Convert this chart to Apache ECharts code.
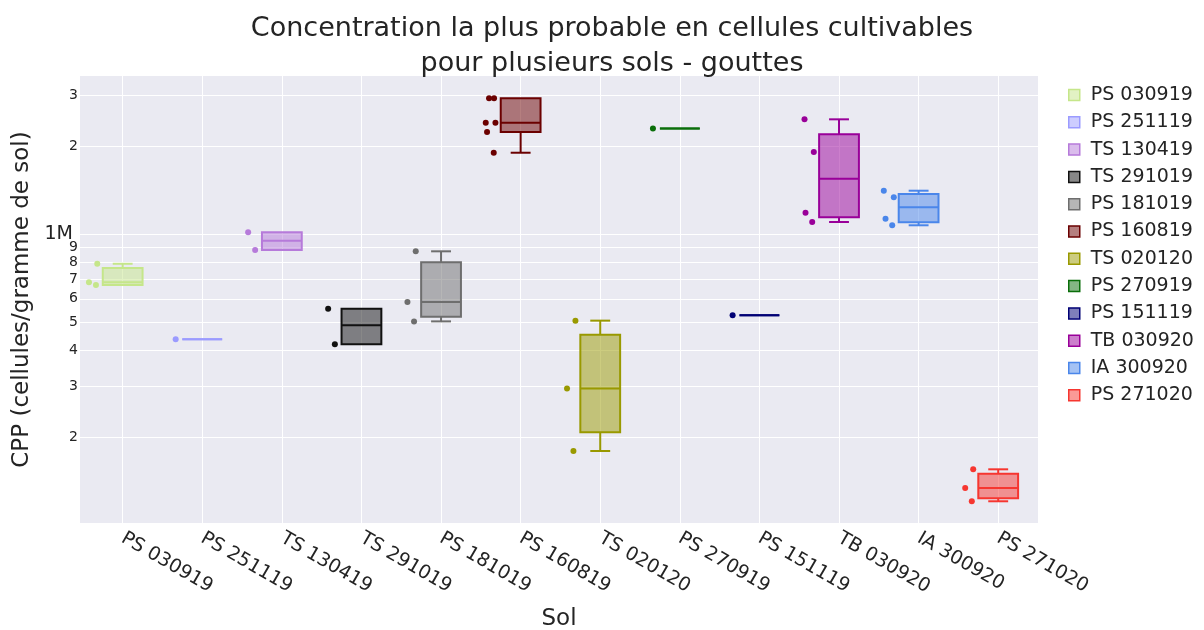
<!DOCTYPE html>
<html>
<head>
<meta charset="utf-8">
<title>CPP - gouttes</title>
<script src="https://cdn.jsdelivr.net/npm/echarts@6/dist/echarts.min.js"></script>
<style>
  html, body { margin: 0; padding: 0; background: #fff; }
  #chart { width: 1204px; height: 630px; }
</style>
</head>
<body>
<div id="chart"></div>
<script>
// categories (one trace per sol)
var sols = ['PS 030919', 'PS 251119', 'TS 130419', 'TS 291019', 'PS 181019', 'PS 160819',
            'TS 020120', 'PS 270919', 'PS 151119', 'TB 030920', 'IA 300920', 'PS 271020'];

// box statistics (cellules / g de sol)
var boxMin    = [670e3, 436e3,  883e3, 419e3, 502e3, 1.907e6, 180e3,   2.312e6, 527e3, 1.102e6, 1.074e6, 120.9e3];
var boxQ1     = [670e3, 436e3,  883e3, 419e3, 521e3, 2.246e6, 208.7e3, 2.312e6, 527e3, 1.144e6, 1.099e6, 123.8e3];
var boxMedian = [684e3, 436e3,  950e3, 487e3, 585e3, 2.418e6, 295e3,   2.312e6, 527e3, 1.553e6, 1.238e6, 134.3e3];
var boxQ3     = [766e3, 436e3, 1016e3, 555e3, 801e3, 2.934e6, 452e3,   2.312e6, 527e3, 2.207e6, 1.375e6, 150.4e3];
var boxMax    = [792e3, 436e3, 1016e3, 555e3, 874e3, 2.934e6, 505e3,   2.312e6, 527e3, 2.484e6, 1.412e6, 155.7e3];

// individual measurements
var points = [
  [684e3, 670e3, 792e3],
  [436e3],
  [1016e3, 883e3],
  [555e3, 419e3],
  [874e3, 585e3, 502e3],
  [2.934e6, 2.934e6, 2.418e6, 2.418e6, 2.246e6, 1.907e6],
  [505e3, 295e3, 180e3],
  [2.312e6],
  [527e3],
  [2.484e6, 1.918e6, 1.186e6, 1.102e6],
  [1.412e6, 1.340e6, 1.131e6, 1.074e6],
  [155.7e3, 134.3e3, 120.9e3]
];

// y tick labels
var yTicks = [2e5, 3e5, 4e5, 5e5, 6e5, 7e5, 8e5, 9e5, 1e6, 2e6, 3e6];

// layout / style only
var jitterPx = [
  [-33.7, -26.7, -25.4], [-26.6], [-33.7, -26.7], [-33.3, -26.6], [-25.3, -33.6, -27],
  [-31.6, -26.6, -34.9, -25.2, -33.6, -26.9], [-24.8, -33.2, -26.8], [-26.9], [-26.8],
  [-34.5, -25.2, -33.5, -26.8], [-34.8, -24.8, -33.1, -26.4], [-25, -33, -26.4]
];
var colors = ['#c5e68a', '#9b9bff', '#b67ada', '#111111', '#6e6e6e', '#6b0000',
              '#999900', '#0a6e0a', '#000075', '#990099', '#4a86ea', '#f63630'];
var font = 'DejaVu Sans, Verdana, sans-serif';
var txt = '#242424';

function alpha(hex, a) {
  var n = parseInt(hex.slice(1), 16);
  return 'rgba(' + (n >> 16 & 255) + ',' + (n >> 8 & 255) + ',' + (n & 255) + ',' + a + ')';
}

function boxRenderer(color) {
  return function (params, api) {
    var x = api.value(0);
    var lo = api.coord([x, api.value(1)]);
    var q1 = api.coord([x, api.value(2)]);
    var md = api.coord([x, api.value(3)]);
    var q3 = api.coord([x, api.value(4)]);
    var hi = api.coord([x, api.value(5)]);
    var xl = api.coord([x - 0.25, api.value(3)])[0];
    var xr = api.coord([x + 0.25, api.value(3)])[0];
    var cl = api.coord([x - 0.125, api.value(3)])[0];
    var cr = api.coord([x + 0.125, api.value(3)])[0];
    var ls = { stroke: color, lineWidth: 2, fill: null };
    var kids = [
      { type: 'rect', shape: { x: xl, y: q3[1], width: xr - xl, height: q1[1] - q3[1] },
        style: { fill: alpha(color, 0.5), stroke: color, lineWidth: 2 } },
      { type: 'line', shape: { x1: xl, y1: md[1], x2: xr, y2: md[1] }, style: ls }
    ];
    if (lo[1] - q1[1] > 0.5) {
      kids.push({ type: 'line', shape: { x1: md[0], y1: q1[1], x2: md[0], y2: lo[1] }, style: ls });
      kids.push({ type: 'line', shape: { x1: cl, y1: lo[1], x2: cr, y2: lo[1] }, style: ls });
    }
    if (q3[1] - hi[1] > 0.5) {
      kids.push({ type: 'line', shape: { x1: md[0], y1: q3[1], x2: md[0], y2: hi[1] }, style: ls });
      kids.push({ type: 'line', shape: { x1: cl, y1: hi[1], x2: cr, y2: hi[1] }, style: ls });
    }
    return { type: 'group', children: kids };
  };
}

var series = [];
sols.forEach(function (name, i) {
  series.push({
    name: name,
    type: 'custom',
    renderItem: boxRenderer(colors[i]),
    itemStyle: { color: colors[i] },
    encode: { x: 0, y: [1, 2, 3, 4, 5] },
    data: [[i, boxMin[i], boxQ1[i], boxMedian[i], boxQ3[i], boxMax[i]]],
    z: 2
  });
  series.push({
    name: name,
    type: 'scatter',
    symbolSize: 6,
    itemStyle: { color: colors[i], opacity: 1 },
    data: points[i].map(function (v, k) {
      return { value: [i, v], symbolOffset: [jitterPx[i][k], 0] };
    }),
    z: 3
  });
});

var idx = sols.map(function (s, i) { return i; });

var chart = echarts.init(document.getElementById('chart'));
chart.setOption({
  animation: false,
  title: {
    text: 'Concentration la plus probable en cellules cultivables\npour plusieurs sols - gouttes',
    left: 607,
    textAlign: 'center',
    top: 6,
    textStyle: { fontFamily: font, fontSize: 27, fontWeight: 'normal', color: txt, lineHeight: 35 }
  },
  legend: {
    orient: 'vertical',
    left: 1063,
    top: 80,
    itemWidth: 11,
    itemHeight: 11,
    itemGap: 7.3,
    textStyle: { fontFamily: font, fontSize: 19, color: txt, lineHeight: 20, padding: [0, 0, 0, 6] },
    data: sols.map(function (s, i) {
      return { name: s, icon: 'rect',
        itemStyle: { color: alpha(colors[i], 0.5), borderColor: colors[i], borderWidth: 1.5 } };
    })
  },
  grid: {
    left: 80, right: 166, top: 76, bottom: 107,
    outerBoundsMode: 'none',
    show: true, backgroundColor: '#eaeaf2', borderWidth: 0
  },
  xAxis: {
    type: 'value',
    min: -0.536,
    max: 11.5,
    axisLine: { show: false },
    axisTick: { show: false, customValues: idx },
    axisLabel: {
      customValues: idx,
      formatter: function (v) { return sols[Math.round(v)]; },
      rotate: -30,
      margin: 14,
      fontFamily: font, fontSize: 19, color: txt
    },
    splitLine: { show: true, lineStyle: { color: '#ffffff', width: 1 } },
    name: 'Sol',
    nameLocation: 'middle',
    nameGap: 85,
    nameTextStyle: { fontFamily: font, fontSize: 23, color: txt }
  },
  yAxis: {
    type: 'log',
    logBase: 10,
    min: 101800,
    max: 3.5e6,
    axisLine: { show: false },
    axisTick: { show: false, customValues: yTicks },
    axisLabel: {
      customValues: yTicks,
      margin: 2,
      formatter: function (v) {
        if (Math.abs(v - 1e6) < 1) return '{big|1M}';
        var d = Math.round(v / Math.pow(10, Math.floor(Math.log10(v) + 1e-9)));
        return '{s|' + d + '}';
      },
      rich: {
        big: { fontFamily: font, fontSize: 19, color: txt, padding: [0, 5, 0, 0] },
        s: { fontFamily: font, fontSize: 14, color: txt }
      }
    },
    splitLine: { show: true, lineStyle: { color: '#ffffff', width: 1 } },
    name: 'CPP (cellules/gramme de sol)',
    nameLocation: 'middle',
    nameGap: 30,
    nameTextStyle: { fontFamily: font, fontSize: 23, color: txt }
  },
  series: series
});
</script>
</body>
</html>
